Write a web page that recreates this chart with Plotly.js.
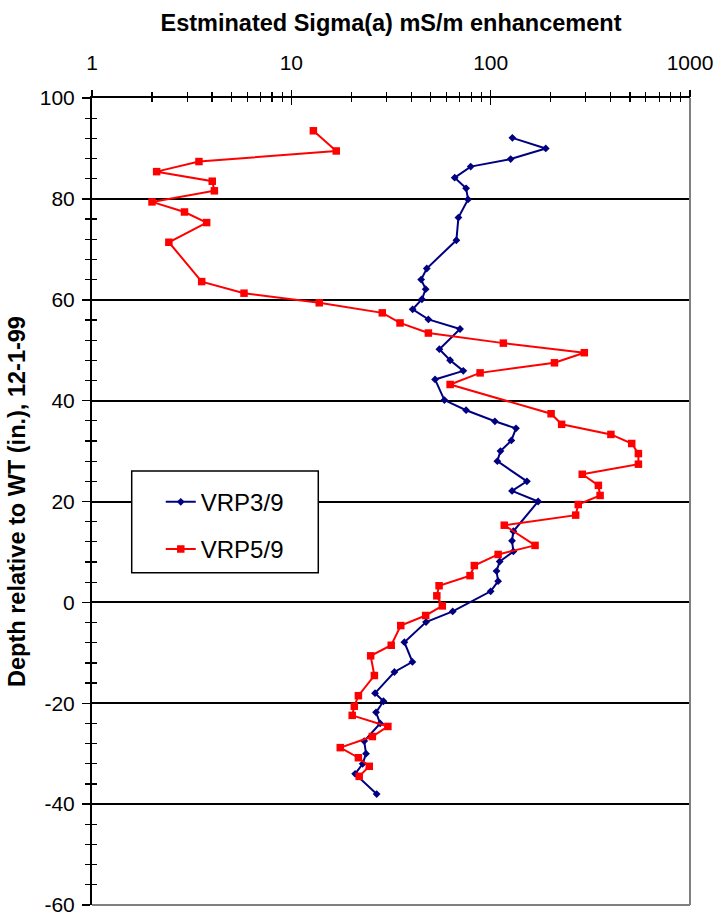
<!DOCTYPE html>
<html>
<head>
<meta charset="utf-8">
<script src="https://cdn.plot.ly/plotly-3.0.1.min.js"></script>
<style>html,body{margin:0;padding:0;background:#fff;}#chart{width:718px;height:919px;}</style>
</head>
<body>
<div id="chart"></div>
<script>
// Series VRP3/9 (blue)
var vrp3Depth = [92.1, 90.0, 87.9, 86.4, 84.2, 82.1, 79.9, 76.3, 71.8, 66.2,
  64.0, 62.1, 60.1, 58.1, 56.1, 54.2, 50.2, 48.0, 45.9, 44.2,
  40.1, 38.1, 35.9, 34.5, 32.1, 30.0, 28.0, 24.0, 22.1, 20.0,
  14.1, 12.2, 10.1, 8.1, 6.2, 4.2, 2.2, -1.8, -3.9, -7.9,
  -11.8, -13.8, -18.0, -19.6, -21.8, -24.0, -27.5, -30.0, -32.0, -34.0,
  -38.0];
var vrp3Sigma = [128.5, 189, 126, 79.4, 66, 75.3, 77, 68.9, 67.3, 47.8,
  44.8, 47.2, 45.2, 40.6, 48.7, 70.2, 55.3, 62.6, 72.9, 52.6,
  58.6, 75.3, 105, 134, 127, 112, 108, 152, 128, 173,
  130, 128, 130, 111, 107, 109, 100, 64.5, 47.4, 36.9,
  40.5, 32.9, 26.3, 29.0, 26.6, 27.9, 23.2, 23.7, 22.8, 20.9,
  26.8];

// Series VRP5/9 (red)
var vrp5Depth = [93.5, 89.5, 87.4, 85.4, 83.5, 81.6, 79.4, 77.4, 75.3, 71.4,
  63.6, 61.3, 59.4, 57.4, 55.4, 53.4, 51.4, 49.5, 47.5, 45.5,
  43.2, 37.4, 35.3, 33.3, 31.5, 29.5, 27.4, 25.4, 23.2, 21.2,
  19.4, 17.3, 15.3, 11.3, 9.5, 7.3, 5.3, 3.3, 1.3, -0.7,
  -2.6, -4.6, -8.5, -10.6, -14.5, -18.5, -20.6, -22.4, -24.6, -26.6,
  -28.8, -30.8, -32.5, -34.5];
var vrp5Sigma = [12.9, 16.8, 3.44, 2.11, 4.01, 4.11, 2.0, 2.91, 3.76, 2.43,
  3.55, 5.79, 13.8, 28.6, 35.1, 48.7, 115.8, 295, 209, 88.5,
  62.6, 201, 227, 401, 510, 551, 551, 288, 347, 354,
  275, 267, 117, 167, 109, 82.8, 78.8, 55.1, 53.7, 57.2,
  47.2, 35.4, 31.7, 25.0, 26.1, 21.7, 20.7, 20.2, 30.5, 25.5,
  17.6, 21.7, 24.6, 21.9];

var seriesNames = ['VRP3/9', 'VRP5/9'];
var xTickVals = [1, 10, 100, 1000];
var xTickText = ['1', '10', '100', '1000'];
var yTickVals = [100, 80, 60, 40, 20, 0, -20, -40, -60];
var yTickText = ['100', '80', '60', '40', '20', '0', '-20', '-40', '-60'];
var xMinorVals = [];
[1, 10, 100].forEach(function (d) { for (var k = 2; k <= 9; k++) xMinorVals.push(k * d); });

var FONT = 'Arial, "Liberation Sans", sans-serif';

var traces = [
  {
    x: vrp3Sigma, y: vrp3Depth, name: seriesNames[0], type: 'scatter', mode: 'lines+markers',
    line: {color: '#000080', width: 2},
    marker: {symbol: 'diamond', size: 6, color: '#000080'},
    legendgroup: 'a'
  },
  {
    x: vrp5Sigma, y: vrp5Depth, name: seriesNames[1], type: 'scatter', mode: 'lines+markers',
    line: {color: '#FF0000', width: 2},
    marker: {symbol: 'square', size: 7.5, color: '#FF0000'},
    legendgroup: 'b'
  },
  {x: [], y: [], xaxis: 'x2', yaxis: 'y2', showlegend: false, hoverinfo: 'skip'},
  {x: [], y: [], xaxis: 'x3', yaxis: 'y2', showlegend: false, hoverinfo: 'skip'}
];

var layout = {
  width: 718, height: 919,
  margin: {l: 92, r: 28, t: 98, b: 14, pad: 0},
  paper_bgcolor: '#ffffff', plot_bgcolor: '#ffffff',
  font: {family: FONT, color: '#000000', size: 20},
  showlegend: true,
  xaxis: {
    type: 'log', range: [0, 3], side: 'top', anchor: 'y',
    showline: true, linecolor: '#000000', linewidth: 2,
    ticks: 'outside', ticklen: 4, tickwidth: 1.5, tickcolor: 'rgba(0,0,0,0)',
    tickmode: 'array', tickvals: xTickVals, ticktext: xTickText,
    tickfont: {size: 21, family: FONT, color: '#000000'},
    ticklabelstandoff: 14,
    showgrid: false, zeroline: false,
    minor: {ticks: 'outside', ticklen: 4, tickwidth: 1.2, tickcolor: '#000000',
            tickmode: 'array', tickvals: xMinorVals, showgrid: false},
    title: {text: '<b>Estminated Sigma(a) mS/m enhancement</b>',
            font: {size: 23.5, family: FONT, color: '#000000'}, standoff: 12}
  },
  xaxis2: {
    type: 'log', range: [0, 3], side: 'top', overlaying: 'x', anchor: 'y2',
    showline: false, ticks: 'inside', ticklen: 7, tickwidth: 1.5, tickcolor: '#000000',
    tickmode: 'array', tickvals: xTickVals, showticklabels: false,
    showgrid: false, zeroline: false,
    minor: {ticks: 'inside', ticklen: 4, tickwidth: 1.2, tickcolor: '#000000',
            tickmode: 'array', tickvals: xMinorVals, showgrid: false}
  },
  xaxis3: {
    type: 'log', range: [0, 3], side: 'top', overlaying: 'x', anchor: 'y2',
    showline: false, ticks: 'outside', ticklen: 7, tickwidth: 1.5, tickcolor: '#000000',
    tickmode: 'array', tickvals: xTickVals, showticklabels: false,
    showgrid: false, zeroline: false
  },
  yaxis: {
    range: [-60, 100], anchor: 'x',
    tickmode: 'array', tickvals: yTickVals, ticktext: yTickText,
    showline: true, linecolor: '#000000', linewidth: 2,
    ticks: 'outside', ticklen: 8, tickwidth: 1.5, tickcolor: '#000000',
    tickfont: {size: 21, family: FONT, color: '#000000'},
    ticklabelstandoff: 3,
    showgrid: true, gridcolor: '#000000', gridwidth: 2,
    zeroline: false,
    minor: {dtick: 4, tick0: 0, ticks: 'outside', ticklen: 5, tickwidth: 1.2, tickcolor: '#000000', showgrid: false},
    title: {text: '<b>Depth relative to WT (in.), 12-1-99</b>',
            font: {size: 23.5, family: FONT, color: '#000000'}, standoff: 8}
  },
  yaxis2: {
    range: [-60, 100], overlaying: 'y', side: 'left', anchor: 'x2',
    tickmode: 'array', tickvals: yTickVals,
    ticks: 'inside', ticklen: 5, tickwidth: 1.5, tickcolor: '#000000',
    showticklabels: false, showgrid: false, zeroline: false, showline: false,
    minor: {dtick: 4, tick0: 0, ticks: 'inside', ticklen: 5, tickwidth: 1.2, tickcolor: '#000000', showgrid: false}
  },
  legend: {
    x: 0.115, xanchor: 'left', y: 0.527, yanchor: 'top',
    bgcolor: 'rgba(0,0,0,0)', borderwidth: 0,
    font: {size: 24, family: FONT, color: '#000000'},
    traceorder: 'grouped', tracegroupgap: 13, itemwidth: 30
  },
  shapes: [
    {type: 'line', xref: 'paper', yref: 'paper', x0: 1, x1: 1, y0: 0, y1: 1,
     line: {color: '#808080', width: 2}, layer: 'above'},
    {type: 'line', xref: 'paper', yref: 'paper', x0: 0, x1: 1, y0: 0, y1: 0,
     line: {color: '#808080', width: 2}, layer: 'above'},
    {type: 'rect', xref: 'paper', yref: 'paper', x0: 0.0664, x1: 0.3784, y0: 0.4118, y1: 0.5378,
     fillcolor: '#ffffff', line: {color: '#000000', width: 1.5}, layer: 'above'}
  ]
};

Plotly.newPlot('chart', traces, layout, {staticPlot: true, displayModeBar: false});
</script>
</body>
</html>
